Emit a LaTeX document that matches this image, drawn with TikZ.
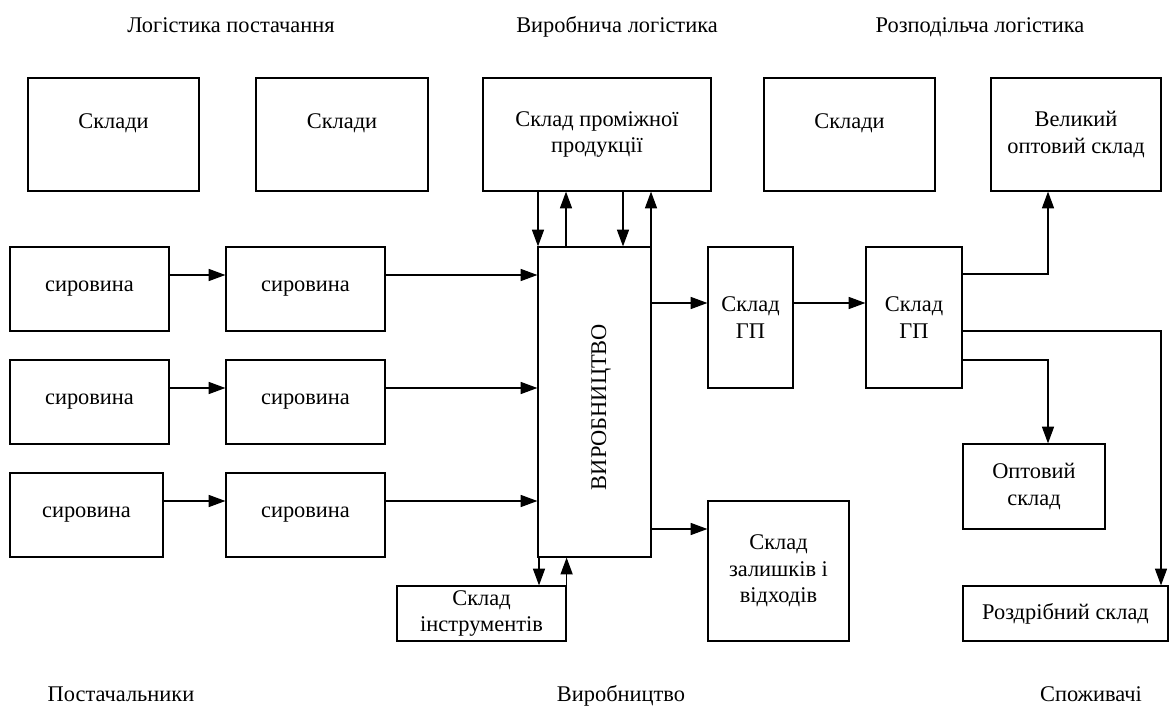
\documentclass[tikz,border=0pt]{standalone}
\usepackage{fontspec}
\setmainfont{Liberation Serif}
\usetikzlibrary{arrows.meta}
\tikzset{
  every node/.style={font=\fontsize{16.8pt}{20pt}\selectfont, inner sep=0pt},
  box/.style={draw, line width=0.9pt, align=center},
  lbl/.style={align=center, anchor=base},
  arr/.style={line width=0.9pt, -{Triangle[length=12.5pt, width=9pt]}},
}
\begin{document}
\begin{tikzpicture}[x=0.75pt, y=-0.75pt]
\useasboundingbox (0,0) rectangle (1170,720);
% titles
\node[lbl] (t1) at (231,33) {Логістика постачання};
\node[lbl] (t2) at (617,33) {Виробнича логістика};
\node[lbl] (t3) at (980,33) {Розподільча логістика};
\node[lbl] (b1) at (121,701) {Постачальники};
\node[lbl] (b2) at (621,701) {Виробництво};
\node[lbl] (b3) at (1091,701) {Споживачі};
% top boxes
\node[box, minimum width=128.25pt, minimum height=84.75pt] (top1) at (113.5,134.5) {Склади\\\mbox{}};
\node[box, minimum width=129pt, minimum height=84.75pt] (top2) at (342,134.5) {Склади\\\mbox{}};
\node[box, minimum width=171pt, minimum height=84.75pt] (top3) at (597,134.5) {Склад проміжної\\продукції};
\node[box, minimum width=128.25pt, minimum height=84.75pt] (top4) at (849.5,134.5) {Склади\\\mbox{}};
\node[box, minimum width=127.5pt, minimum height=84.75pt] (top5) at (1076,134.5) {Великий\\оптовий склад};
% raw material boxes
\node[box, minimum width=119.25pt, minimum height=63pt] (sA1) at (89.5,289) {сировина};
\node[box, minimum width=119.25pt, minimum height=63pt] (sB1) at (305.5,289) {сировина};
\node[box, minimum width=119.25pt, minimum height=63pt] (sA2) at (89.5,402) {сировина};
\node[box, minimum width=119.25pt, minimum height=63pt] (sB2) at (305.5,402) {сировина};
\node[box, minimum width=114.75pt, minimum height=63pt] (sA3) at (86.5,515) {сировина};
\node[box, minimum width=119.25pt, minimum height=63pt] (sB3) at (305.5,515) {сировина};
% production
\node[box, minimum width=84.75pt, minimum height=232.5pt] (prod) at (594.5,402) {};
\node[align=center, rotate=90] (prodt) at (601,407) {ВИРОБНИЦТВО};
% warehouses of finished goods
\node[box, minimum width=63.75pt, minimum height=105.75pt] (gp1) at (750.5,317.5) {Склад\\ГП};
\node[box, minimum width=72pt, minimum height=105.75pt] (gp2) at (914,317.5) {Склад\\ГП};
\node[box, minimum width=105.75pt, minimum height=105pt] (zal) at (778.5,571) {Склад\\залишків і\\відходів};
\node[box, minimum width=126.75pt, minimum height=41.25pt] (instr) at (481.5,613.5) {Склад\\інструментів};
\node[box, minimum width=106.5pt, minimum height=63.75pt] (opt) at (1034,486.5) {Оптовий\\склад};
\node[box, minimum width=153.75pt, minimum height=41.25pt] (rozdr) at (1065.5,613.5) {Роздрібний склад};
% raw material flows
\draw[arr] (sA1.east |- 0,275) -- (sB1.west |- 0,275);
\draw[arr] (sA2.east |- 0,388) -- (sB2.west |- 0,388);
\draw[arr] (sA3.east |- 0,501) -- (sB3.west |- 0,501);
\draw[arr] (sB1.east |- 0,275) -- (prod.west |- 0,275);
\draw[arr] (sB2.east |- 0,388) -- (prod.west |- 0,388);
\draw[arr] (sB3.east |- 0,501) -- (prod.west |- 0,501);
% intermediate warehouse
\draw[arr] (top3.south -| 538,0) -- (prod.north -| 538,0);
\draw[arr] (prod.north -| 566,0) -- (top3.south -| 566,0);
\draw[arr] (top3.south -| 623,0) -- (prod.north -| 623,0);
\draw[arr] (prod.north -| 651,0) -- (top3.south -| 651,0);
% tools
\draw[arr] (prod.south -| 539,0) -- (instr.north -| 539,0);
\draw[arr] (instr.north east) -- (instr.north east |- prod.south);
% outputs
\draw[arr] (prod.east |- 0,303) -- (gp1.west |- 0,303);
\draw[arr] (gp1.east |- 0,303) -- (gp2.west |- 0,303);
\draw[arr] (prod.east |- 0,529) -- (zal.west |- 0,529);
% distribution
\draw[arr] (gp2.east |- 0,274) -| (top5.south -| 1048,0);
\draw[arr] (gp2.east |- 0,331) -| (rozdr.north -| 1161,0);
\draw[arr] (gp2.east |- 0,360) -| (opt.north -| 1048,0);
\end{tikzpicture}
\end{document}
